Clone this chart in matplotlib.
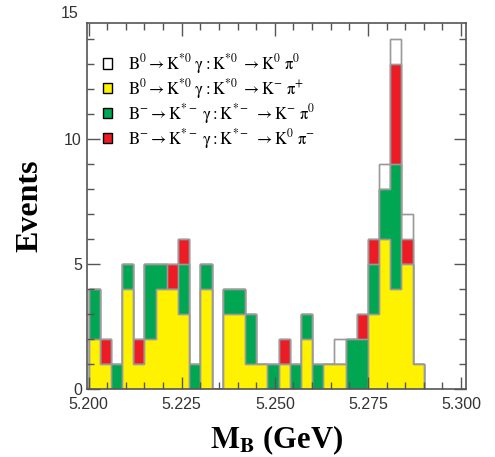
import numpy as np
import matplotlib
matplotlib.use("Agg")
import matplotlib.pyplot as plt
from matplotlib.patches import Patch
from matplotlib.ticker import MultipleLocator
from matplotlib.transforms import blended_transform_factory

# 30 bins of 3 MeV from 5.200 to 5.290 GeV
edges = np.round(np.arange(5.200, 5.2905, 0.003), 4)
n_kpi = [2, 1, 0, 4, 1, 2, 4, 4, 3, 0, 4, 0, 3, 3, 1, 1, 0, 1, 0, 2, 0, 1, 1, 0, 0, 3, 6, 4, 5, 1]
n_kpi0 = [2, 0, 1, 1, 0, 3, 1, 0, 2, 1, 1, 0, 1, 1, 2, 0, 1, 0, 1, 1, 1, 0, 0, 2, 2, 2, 2, 5, 0, 0]
n_k0pi = [0, 1, 0, 0, 1, 0, 0, 1, 1, 0, 0, 0, 0, 0, 0, 0, 0, 1, 0, 0, 0, 0, 0, 0, 1, 1, 0, 4, 1, 0]
n_k0pi0 = [0, 0, 0, 0, 0, 0, 0, 0, 0, 0, 0, 0, 0, 0, 0, 0, 0, 0, 0, 0, 0, 0, 1, 0, 0, 0, 1, 1, 1, 0]

labels = [
    r"$\mathrm{B^0 \rightarrow K^{*0}\ \gamma : K^{*0}\ \rightarrow K^0\ \pi^0}$",
    r"$\mathrm{B^0 \rightarrow K^{*0}\ \gamma : K^{*0}\ \rightarrow K^{-}\ \pi^{+}}$",
    r"$\mathrm{B^{-} \rightarrow K^{*-}\ \gamma : K^{*-}\ \rightarrow K^{-}\ \pi^0}$",
    r"$\mathrm{B^{-} \rightarrow K^{*-}\ \gamma : K^{*-}\ \rightarrow K^0\ \pi^{-}}$",
]
colors = ["white", "#fff200", "#00a651", "#ed1c24"]

plt.rcParams["mathtext.fontset"] = "stix"

fig = plt.figure(figsize=(4.95, 4.57), dpi=100)
ax = fig.add_axes([0.1752, 0.1488, 0.7653, 0.8015])

# stacked: yellow at the bottom, then green, red, white on top
y = np.array(n_kpi)
yg = y + np.array(n_kpi0)
ygr = yg + np.array(n_k0pi)
tot = ygr + np.array(n_k0pi0)
edge = "#9a9a9a"
for vals, col in ((tot, colors[0]), (ygr, colors[3]), (yg, colors[2]), (y, colors[1])):
    ax.stairs(vals, edges, fill=True, facecolor=col, edgecolor=edge, lw=1.0)
    ax.stairs(vals, edges, fill=False, color=edge, lw=1.0)

ax.set_xlim(5.1995, 5.3012)
ax.set_ylim(0, 14.65)
ax.xaxis.set_major_locator(MultipleLocator(0.025))
ax.xaxis.set_minor_locator(MultipleLocator(0.005))
ax.set_yticks([0, 5, 10])
ax.yaxis.set_minor_locator(MultipleLocator(1))
ax.xaxis.set_major_formatter(plt.FormatStrFormatter("%.3f"))
ax.tick_params(which="both", direction="in", top=True, right=True,
               color="#555555", labelcolor="#333333", labelsize=11.5, width=1)
ax.tick_params(which="major", length=9)
ax.tick_params(which="minor", length=5)
ax.tick_params(axis="x", pad=6)
for lab in ax.get_xticklabels() + ax.get_yticklabels():
    lab.set_fontfamily("Liberation Sans")
for s in ax.spines.values():
    s.set_color("#555555")
    s.set_linewidth(1.2)
tr = blended_transform_factory(ax.transAxes, ax.transData)
ax.text(-0.022, 15, "15", transform=tr, ha="right", va="center",
        fontsize=11.5, color="#333333", family="Liberation Sans", clip_on=False)

ax.set_xlabel(r"$\mathbf{M_B}$ (GeV)", fontsize=22, fontweight="bold",
              family="Liberation Serif", labelpad=8)
ax.set_ylabel("Events", fontsize=23, fontweight="bold",
              family="Liberation Serif", labelpad=14)

handles = [Patch(facecolor=c, edgecolor="black", lw=1.0) for c in colors]
ax.legend(handles, labels, loc="upper left", bbox_to_anchor=(0.043, 0.92),
          frameon=False, fontsize=12, handlelength=0.55, handleheight=0.55,
          handletextpad=0.95, labelspacing=0.05, borderpad=0, borderaxespad=0)

fig.savefig("out.png", dpi=100)
